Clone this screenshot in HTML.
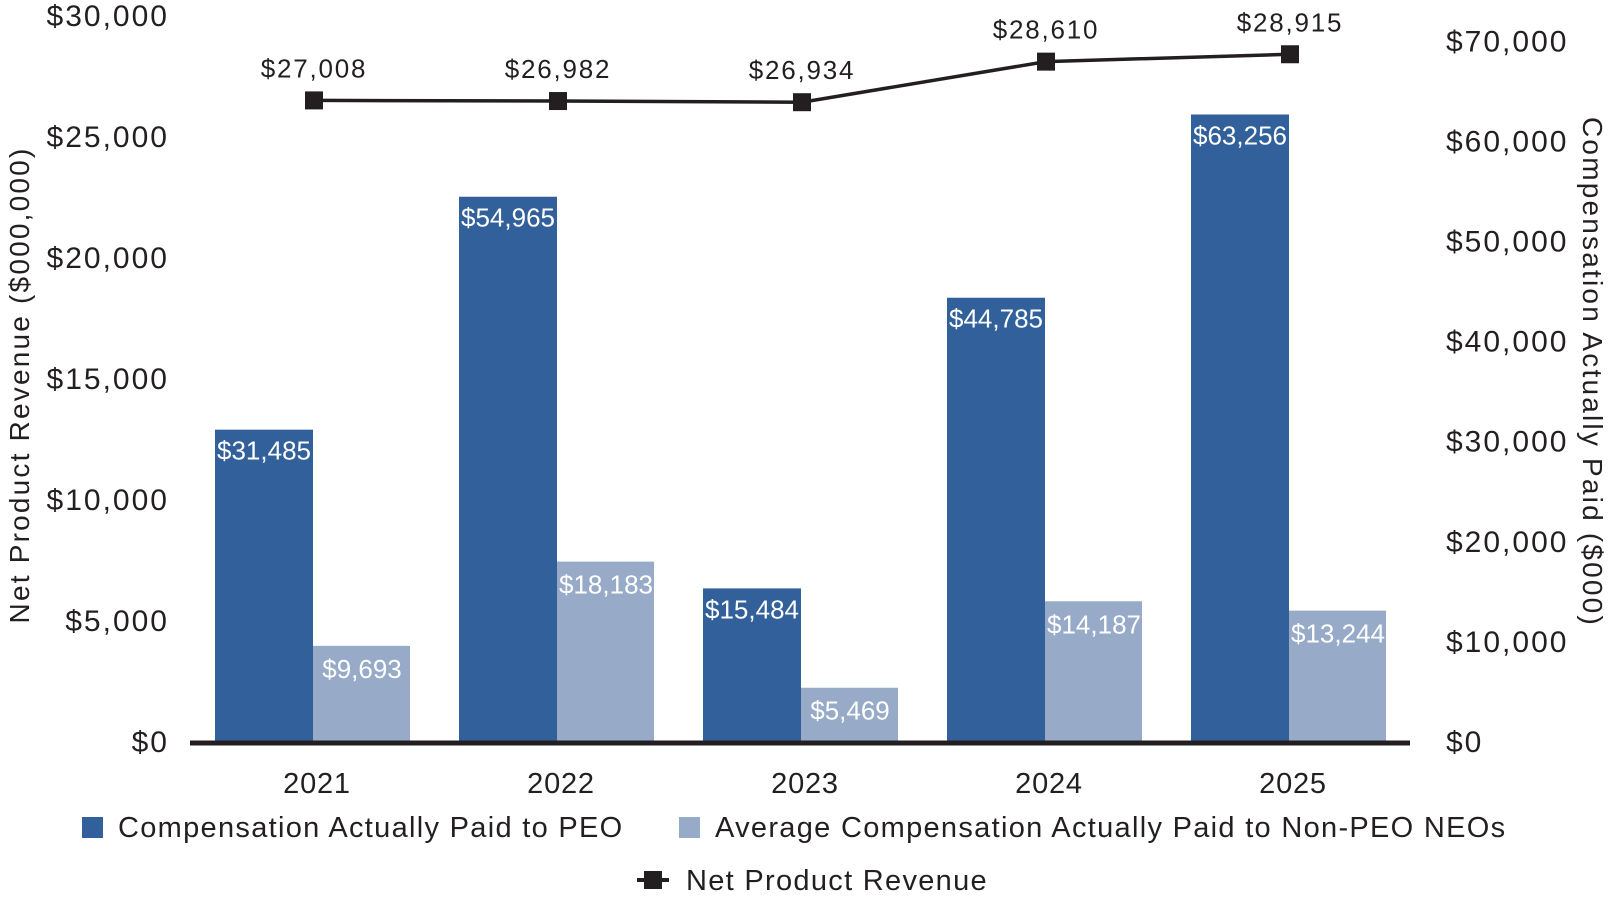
<!DOCTYPE html>
<html><head><meta charset="utf-8"><style>
html,body{margin:0;padding:0;background:#fff;}
svg{display:block;font-family:"Liberation Sans",sans-serif;}
</style></head><body>
<svg id="chart" width="1612" height="899" viewBox="0 0 1612 899"></svg>
<script>
const years = ["2021","2022","2023","2024","2025"];
const peo = [31485,54965,15484,44785,63256];
const neo = [9693,18183,5469,14187,13244];
const revenue = [27008,26982,26934,28610,28915];
const leftTicks = [0,5000,10000,15000,20000,25000,30000];
const rightTicks = [0,10000,20000,30000,40000,50000,60000,70000];

const NS="http://www.w3.org/2000/svg";
const svg=document.getElementById('chart');
const base=742, x0=190, band=244;
const yLeft=v=>base - v*(726/30000);
const yLine=v=>yLeft(v)+12;
const yRight=v=>base - v*(99.2/10000);
const fmt=v=>'$'+v.toLocaleString('en-US');
function mk(tag,attrs,txt){const e=document.createElementNS(NS,tag);for(const k in attrs)e.setAttribute(k,attrs[k]);if(txt!==undefined)e.textContent=txt;svg.appendChild(e);return e;}

leftTicks.forEach(t=>{
  const e=mk('text',{x:169,y:yLeft(t)+10,'text-anchor':'end','font-size':30,'letter-spacing':2,fill:'#231f20'},fmt(t));
  
  
});
rightTicks.forEach(t=>{
  const e=mk('text',{x:1446,y:base-t*(100.1/10000)+10,'font-size':30,'letter-spacing':2,fill:'#231f20'},fmt(t));
  
  
});
let e=mk('text',{x:0,y:0,transform:'translate(29,385) rotate(-90)','text-anchor':'middle','font-size':28,'letter-spacing':2.2,fill:'#231f20'},'Net Product Revenue ($000,000)');


e=mk('text',{x:0,y:0,transform:'translate(1583,372) rotate(90)','text-anchor':'middle','font-size':28,'letter-spacing':2.2,fill:'#231f20'},'Compensation Actually Paid ($000)');



years.forEach((y,i)=>{
  const bx=x0+i*band+25;
  let r=mk('rect',{x:bx,y:yRight(peo[i]),width:98,height:base-yRight(peo[i]),fill:'#31609a'});
  
  
  let t=mk('text',{x:bx+49,y:yRight(peo[i])+30,'text-anchor':'middle','font-size':26,fill:'#fff'},fmt(peo[i]));
  
  
  r=mk('rect',{x:bx+98,y:yRight(neo[i]),width:97,height:base-yRight(neo[i]),fill:'#97abc8'});
  
  
  t=mk('text',{x:bx+147,y:yRight(neo[i])+32,'text-anchor':'middle','font-size':26,fill:'#fff'},fmt(neo[i]));
  
  
  t=mk('text',{x:x0+i*band+127,y:793,'text-anchor':'middle','font-size':29,'letter-spacing':0.8,fill:'#231f20'},y);
  
  
});
e=mk('line',{x1:x0,x2:1410,y1:base+1,y2:base+1,stroke:'#231f20','stroke-width':5});



const pts=revenue.map((v,i)=>[x0+i*band+124,yLine(v)]);
e=mk('polyline',{points:pts.map(p=>p.join(',')).join(' '),fill:'none',stroke:'#231f20','stroke-width':3.5});


pts.forEach((p,i)=>{
  let m=mk('rect',{x:p[0]-9,y:p[1]-9,width:18,height:18,fill:'#231f20'});
  
  
  let t=mk('text',{x:p[0],y:p[1]-23,'text-anchor':'middle','font-size':26,'letter-spacing':1.8,fill:'#231f20'},fmt(revenue[i]));
  
  
});

e=mk('rect',{x:82,y:817,width:21,height:21,fill:'#31609a'});


e=mk('text',{x:118,y:837,'font-size':29,'letter-spacing':1.3,fill:'#231f20'},'Compensation Actually Paid to PEO');


e=mk('rect',{x:679,y:817,width:21,height:21,fill:'#97abc8'});


e=mk('text',{x:715,y:837,'font-size':29,'letter-spacing':1.3,fill:'#231f20'},'Average Compensation Actually Paid to Non-PEO NEOs');


e=mk('line',{x1:637,x2:669,y1:880,y2:880,stroke:'#231f20','stroke-width':4});


e=mk('rect',{x:644,y:871,width:18,height:18,fill:'#231f20'});


e=mk('text',{x:686,y:890,'font-size':29,'letter-spacing':1.3,fill:'#231f20'},'Net Product Revenue');


</script>
</body></html>
